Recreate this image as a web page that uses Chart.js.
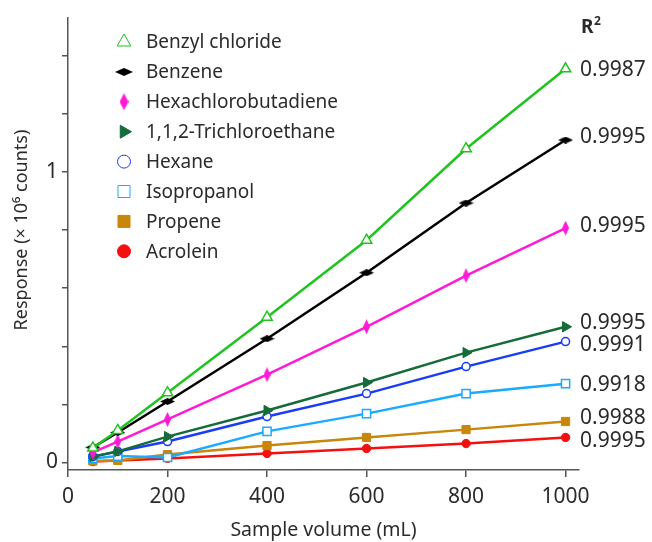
<!DOCTYPE html>
<html>
<head>
<meta charset="utf-8">
<script src="https://cdn.jsdelivr.net/npm/chart.js@4"></script>
<style>
  html, body { margin: 0; padding: 0; background: #fff; }
  #wrap { width: 652px; height: 542px; }
</style>
</head>
<body>
<div id="wrap"><canvas id="chart" width="652" height="542"></canvas></div>
<script>
const volumes = [50, 100, 200, 400, 600, 800, 1000];
const xTicks = [0, 200, 400, 600, 800, 1000];
const yTicks = [0, 0.2, 0.4, 0.6, 0.8, 1, 1.2, 1.4];
const yLabels = { 0: "0", 1: "1" };

const compounds = ["Benzyl chloride", "Benzene", "Hexachlorobutadiene", "1,1,2-Trichloroethane",
  "Hexane", "Isopropanol", "Propene", "Acrolein"];

const benzylChloride = [0.05, 0.11, 0.24, 0.50, 0.765, 1.08, 1.355];
const benzene = [0.052, 0.103, 0.21, 0.426, 0.653, 0.893, 1.11];
const hexachlorobutadiene = [0.035, 0.072, 0.148, 0.302, 0.467, 0.643, 0.807];
const trichloroethane = [0.02, 0.038, 0.089, 0.179, 0.275, 0.378, 0.467];
const hexane = [0.02, 0.038, 0.072, 0.158, 0.237, 0.33, 0.416];
const isopropanol = [0.014, 0.022, 0.017, 0.107, 0.168, 0.237, 0.271];
const propene = [0.005, 0.007, 0.027, 0.058, 0.086, 0.113, 0.141];
const acrolein = [0.003, 0.007, 0.014, 0.031, 0.048, 0.065, 0.086];

const rSquared = ["0.9987", "0.9995", "0.9995", "0.9995", "0.9991", "0.9918", "0.9988", "0.9995"];

const FONT = "'Noto Sans', sans-serif";
const TEXT = "#2b2b2b";

// flat / tall diamond markers
function diamond(w, h, color) {
  const c = document.createElement("canvas");
  c.width = w; c.height = h;
  const g = c.getContext("2d");
  g.fillStyle = color;
  g.beginPath();
  g.moveTo(w / 2, 0); g.lineTo(w, h / 2); g.lineTo(w / 2, h); g.lineTo(0, h / 2);
  g.closePath(); g.fill();
  return c;
}

const styles = [
  { color: "#1fc41f", pointStyle: "triangle", radius: 6, hollow: true, lr: 8 },
  { color: "#000000", pointStyle: diamond(15, 7, "#000"), legendStyle: diamond(18, 8, "#000") },
  { color: "#ff1ad6", pointStyle: diamond(7, 15, "#ff1ad6"), legendStyle: diamond(9, 17, "#ff1ad6") },
  { color: "#156b3a", pointStyle: "triangle", rotation: 90, radius: 6, lr: 7.5 },
  { color: "#1a3cf5", pointStyle: "circle", radius: 4, hollow: true, lr: 6.5 },
  { color: "#1aaaff", pointStyle: "rect", radius: 5.8, hollow: true, lr: 8.5 },
  { color: "#c8860b", pointStyle: "rect", radius: 5.8, lr: 8.5 },
  { color: "#f51010", pointStyle: "circle", radius: 4.2, lr: 6.5 }
];

const series = [benzylChloride, benzene, hexachlorobutadiene, trichloroethane,
  hexane, isopropanol, propene, acrolein];

// small vertical nudges for the R² labels so they don't collide
const labelNudge = [0, -4, -3, -5, 2, 0, -4, 3];

const datasets = series.map((vals, i) => {
  const s = styles[i];
  return {
    label: compounds[i],
    data: vals.map((v, j) => ({ x: volumes[j], y: v })),
    borderColor: s.color,
    borderWidth: 2.5,
    pointStyle: s.pointStyle,
    pointRotation: s.rotation || 0,
    pointRadius: s.radius || 5,
    pointBackgroundColor: s.hollow ? "#fff" : s.color,
    pointBorderColor: s.color,
    pointBorderWidth: s.hollow ? 1.5 : 1,
    fill: false,
    tension: 0
  };
});

const overlay = {
  id: "overlay",
  afterDatasetsDraw(chart) {
    const ctx = chart.ctx;
    ctx.save();
    // legend block
    ctx.font = "19px " + FONT;
    ctx.textBaseline = "middle";
    ctx.textAlign = "left";
    compounds.forEach((name, i) => {
      const s = styles[i];
      const y = 42 + i * 29.9;
      ctx.fillStyle = s.hollow ? "#fff" : s.color;
      ctx.strokeStyle = s.color;
      Chart.helpers.drawPoint(ctx, {
        pointStyle: s.legendStyle || s.pointStyle,
        rotation: s.rotation || 0,
        radius: s.lr || 6,
        borderWidth: s.hollow ? 1.8 : 1
      }, 124, y);
      ctx.fillStyle = TEXT;
      ctx.fillText(name, 146, y + 1);
    });
    // R² column
    ctx.font = "bold 19px " + FONT;
    ctx.fillText("R", 581, 28);
    ctx.font = "bold 12px " + FONT;
    ctx.fillText("2", 594, 22);
    ctx.font = "21px " + FONT;
    chart.data.datasets.forEach((ds, i) => {
      const meta = chart.getDatasetMeta(i);
      const last = meta.data[meta.data.length - 1];
      ctx.fillText(rSquared[i], 580, last.y + labelNudge[i] + 1);
    });
    // y axis title
    ctx.translate(22, 230);
    ctx.rotate(-Math.PI / 2);
    ctx.textAlign = "center";
    ctx.font = "18px " + FONT;
    ctx.fillText("Response (× 10⁶ counts)", 0, 0);
    ctx.restore();
  }
};

new Chart(document.getElementById("chart"), {
  type: "line",
  data: { datasets },
  plugins: [overlay],
  options: {
    responsive: false,
    animation: false,
    layout: { padding: { top: 18, right: 73, left: 0, bottom: 0 } },
    plugins: { legend: { display: false }, tooltip: { enabled: false } },
    scales: {
      x: {
        type: "linear",
        min: 0,
        max: 1027,
        afterFit(scale) { scale.height = 72; },
        afterBuildTicks(scale) { scale.ticks = xTicks.map((v) => ({ value: v })); },
        border: { display: true, color: "#555", width: 1.5 },
        grid: { drawOnChartArea: false, drawTicks: true, tickLength: 7, color: "#555", lineWidth: 1.5 },
        ticks: { maxRotation: 0, padding: 7, color: TEXT, autoSkip: false,
          font: { family: FONT, size: 21 }, callback: (v) => String(v) },
        title: { display: true, text: "Sample volume (mL)", color: TEXT,
          font: { family: FONT, size: 19.5 }, padding: { top: 0, bottom: 0 } }
      },
      y: {
        min: -0.026,
        max: 1.53,
        afterFit(scale) { scale.width = 68; },
        afterBuildTicks(scale) { scale.ticks = yTicks.map((v) => ({ value: v })); },
        border: { display: true, color: "#555", width: 1.5 },
        grid: { drawOnChartArea: false, drawTicks: true, tickLength: 6, color: "#555", lineWidth: 1.5 },
        ticks: {
          padding: 4, color: TEXT, autoSkip: false,
          font: { family: FONT, size: 21 },
          callback: (v) => yLabels[v] || ""
        },
        title: { display: false }
      }
    }
  }
});
</script>
</body>
</html>
